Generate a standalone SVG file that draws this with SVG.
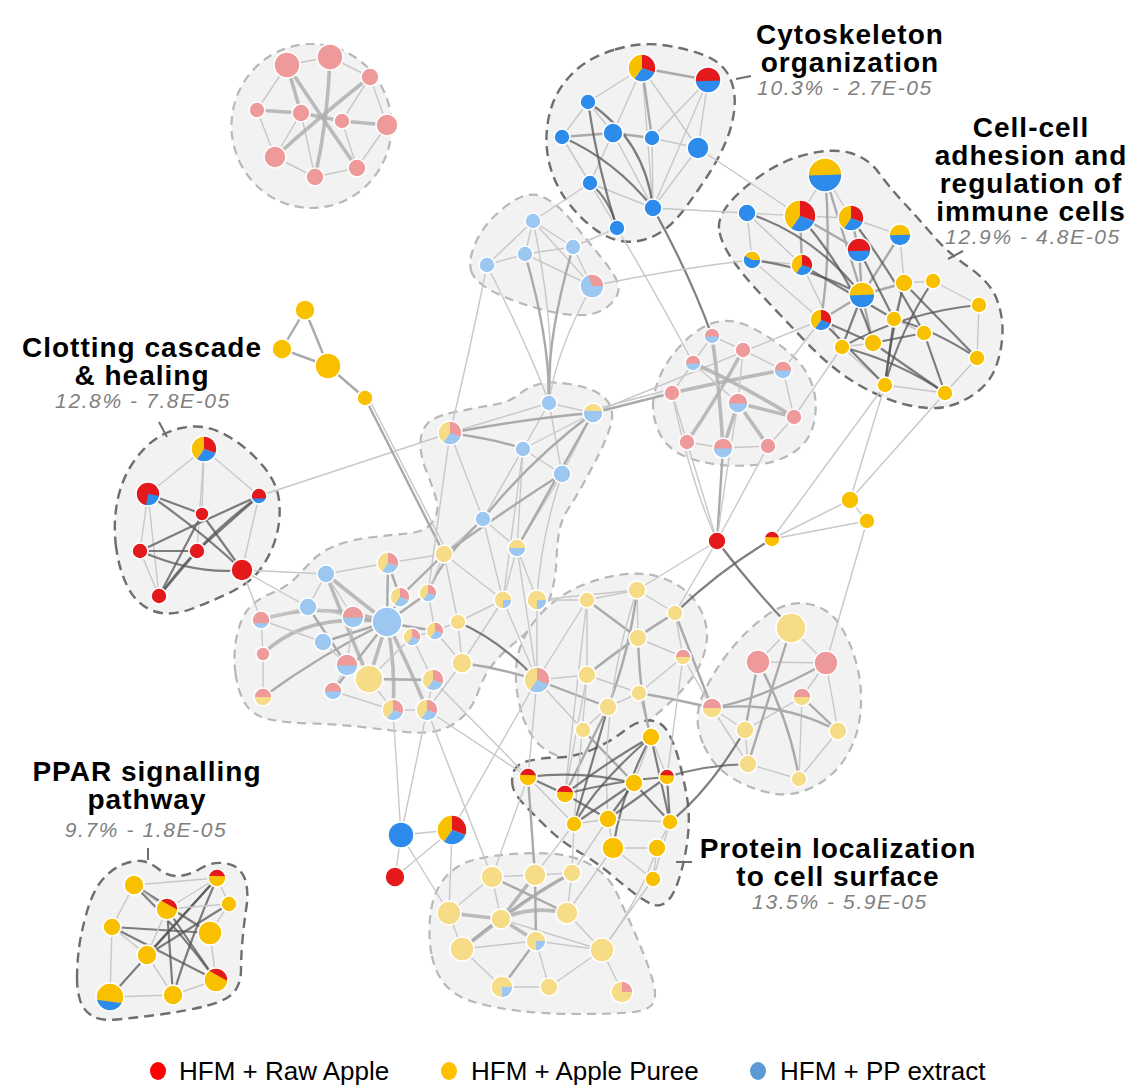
<svg xmlns="http://www.w3.org/2000/svg" width="1132" height="1087" viewBox="0 0 1132 1087">
<style>
.hl{fill:#f2f2f2;stroke:#b8b8b8;stroke-width:2.2;stroke-dasharray:9 6}
.hd{fill:#f2f2f2;stroke:#6e6e6e;stroke-width:2.4;stroke-dasharray:10 6}
#connectors path{fill:none;stroke-linecap:round}
.l1{stroke:#c8c8c8;stroke-width:1.4}
.l2{stroke:#aaaaaa;stroke-width:2.4}
.l3{stroke:#555;stroke-width:2.2;stroke-opacity:.75}
.l4{stroke:#b0b0b0;stroke-width:3.6;stroke-opacity:.85}
.R{fill:#E3191C}.Y{fill:#F9C000}.B{fill:#2D8CEB}.P{fill:#EE9A9B}.LY{fill:#F7DC88}.LB{fill:#9CC7F1}
circle.n{stroke:#fff;stroke-width:1.6}
.ring{fill:none;stroke:#fff;stroke-width:1.6;vector-effect:non-scaling-stroke}
.t{font-family:"Liberation Sans",Arial,sans-serif;font-weight:bold;font-size:28px;letter-spacing:1px;fill:#000;text-anchor:middle}
.s{font-family:"Liberation Sans",Arial,sans-serif;font-weight:normal;font-style:italic;font-size:21px;fill:#808080;letter-spacing:1.6px}
.lg{font-family:"Liberation Sans",Arial,sans-serif;font-size:26px;fill:#000}
.ld{stroke:#6e6e6e;stroke-width:2;fill:none}
</style>
<defs>
<g id="pie3"><path class="R" d="M0,0 L0,-1 A1,1 0 0,1 0.94,0.342 Z"/><path class="B" d="M0,0 L0.94,0.342 A1,1 0 0,1 -0.574,0.819 Z"/><path class="Y" d="M0,0 L-0.574,0.819 A1,1 0 0,1 0,-1 Z"/><circle r="1" class="ring" vector-effect="non-scaling-stroke"/></g>
<g id="fpie3"><path class="P" d="M0,0 L0,-1 A1,1 0 0,1 0.94,0.342 Z"/><path class="LB" d="M0,0 L0.94,0.342 A1,1 0 0,1 -0.574,0.819 Z"/><path class="LY" d="M0,0 L-0.574,0.819 A1,1 0 0,1 0,-1 Z"/><circle r="1" class="ring" vector-effect="non-scaling-stroke"/></g>
<g id="yb"><circle r="1" class="B"/><path class="Y" d="M-1,0.03 A1,1 0 0,1 1,-0.03 Z"/><circle r="1" class="ring" vector-effect="non-scaling-stroke"/></g>
<g id="rb"><circle r="1" class="B"/><path class="R" d="M-0.995,0.1 A1,1 0 1,1 0.999,0.04 Z"/><circle r="1" class="ring" vector-effect="non-scaling-stroke"/></g>
<g id="rb2"><circle r="1" class="B"/><path class="R" d="M-0.954,0.3 A1,1 0 1,1 0.954,0.3 Z"/><circle r="1" class="ring" vector-effect="non-scaling-stroke"/></g>
<g id="ry"><circle r="1" class="Y"/><path class="R" d="M-0.968,-0.25 A1,1 0 0,1 0.98,-0.2 Z"/><circle r="1" class="ring" vector-effect="non-scaling-stroke"/></g>
<g id="ry2"><circle r="1" class="Y"/><path class="R" d="M-0.6,-0.8 A1,1 0 0,1 0.995,0.1 Z"/><circle r="1" class="ring" vector-effect="non-scaling-stroke"/></g>
<g id="rbw"><circle r="1" class="R"/><path class="B" d="M0,0 L0.985,0.174 A1,1 0 0,1 -0.174,0.985 Z"/><circle r="1" class="ring" vector-effect="non-scaling-stroke"/></g>
<g id="byw"><circle r="1" class="B"/><path class="Y" d="M0,0 L-0.866,-0.5 A1,1 0 0,1 1,0 Z"/><circle r="1" class="ring" vector-effect="non-scaling-stroke"/></g>
<g id="pyb"><circle r="1" class="B"/><path class="Y" d="M-0.98,0.2 A1,1 0 1,1 0.898,0.44 Z"/><circle r="1" class="ring" vector-effect="non-scaling-stroke"/></g>
<g id="pb"><circle r="1" class="LB"/><path class="P" d="M-0.999,0.05 A1,1 0 1,1 0.999,0.05 Z"/><circle r="1" class="ring" vector-effect="non-scaling-stroke"/></g>
<g id="pb2"><circle r="1" class="LB"/><path class="P" d="M-0.937,0.35 A1,1 0 1,1 0.937,0.35 Z"/><circle r="1" class="ring" vector-effect="non-scaling-stroke"/></g>
<g id="py"><circle r="1" class="LY"/><path class="P" d="M-1,0 A1,1 0 0,1 1,0 Z"/><circle r="1" class="ring" vector-effect="non-scaling-stroke"/></g>
<g id="lyb"><circle r="1" class="LB"/><path class="LY" d="M-1,0 A1,1 0 0,1 1,0 Z"/><circle r="1" class="ring" vector-effect="non-scaling-stroke"/></g>
<g id="lyb2"><circle r="1" class="LB"/><path class="LY" d="M-0.98,-0.2 A1,1 0 0,1 0.98,-0.2 Z"/><circle r="1" class="ring" vector-effect="non-scaling-stroke"/></g>
<g id="lyw"><circle r="1" class="LY"/><path class="LB" d="M0,0 L1,0 A1,1 0 0,1 0,1 Z"/><circle r="1" class="ring" vector-effect="non-scaling-stroke"/></g>
<g id="lyp"><circle r="1" class="LY"/><path class="P" d="M0,0 L0,-1 A1,1 0 0,1 1,0 Z"/><circle r="1" class="ring" vector-effect="non-scaling-stroke"/></g>
<g id="lbp"><circle r="1" class="LB"/><path class="P" d="M0,0 L-0.34,-0.94 A1,1 0 0,1 1,0 Z"/><circle r="1" class="ring" vector-effect="non-scaling-stroke"/></g>
</defs>
<rect width="1132" height="1087" fill="#fff"/>
<g id="clusters">
<ellipse class="hl" cx="311.5" cy="126" rx="80" ry="82"/>
<path class="hl" d="M472,273 Q467,262 476,242 Q485,222 506,206 Q527,190 542,196.5 Q557,203 572,221.5 Q587,240 602,258.5 Q617,277 618.5,286 Q620,295 610,304.5 Q600,314 583.5,315 Q567,316 542,309.5 Q517,303 497,293.5 Q477,284 472,273 Z"/>
<path class="hl" d="M653,406 Q653,392 660.5,375 Q668,358 684,342 Q700,326 716.5,322 Q733,318 752.5,328 Q772,338 788.5,352 Q805,366 811.5,383 Q818,400 814.5,420 Q811,440 795.5,451 Q780,462 758.5,464.5 Q737,467 717,464.5 Q697,462 682,455 Q667,448 660,434 Q653,420 653,406 Z"/>
<path class="hl" d="M235.5,673.5 Q233,655 236.5,637.5 Q240,620 247.5,610 Q255,600 271,593.5 Q287,587 296,577.5 Q305,568 313.5,559.5 Q322,551 336,545.5 Q350,540 370,537.5 Q390,535 407.5,533.5 Q425,532 432.5,522 Q440,512 436,498.5 Q432,485 426,470 Q420,455 420.5,442.5 Q421,430 428,423 Q435,416 455,412 Q475,408 492.5,405 Q510,402 519,394.5 Q528,387 539.5,384 Q551,381 569,384 Q587,387 597,392.5 Q607,398 610.5,406.5 Q614,415 610,427.5 Q606,440 599,454 Q592,468 584,482.5 Q576,497 568.5,508.5 Q561,520 559,532.5 Q557,545 556.5,560 Q556,575 552,591 Q548,607 537.5,620 Q527,633 515,642.5 Q503,652 493.5,663.5 Q484,675 478.5,691 Q473,707 462.5,717 Q452,727 438.5,730.5 Q425,734 406,732 Q387,730 362,727 Q337,724 312,723.5 Q287,723 270,719.5 Q253,716 245.5,704 Q238,692 235.5,673.5 Z"/>
<path class="hl" d="M521.5,712.5 Q515,690 516,670 Q517,650 526,634 Q535,618 550,605 Q565,592 584,584.5 Q603,577 621.5,574.5 Q640,572 656,576 Q672,580 684.5,590 Q697,600 703,615 Q709,630 706,646 Q703,662 694,675 Q685,688 672.5,700 Q660,712 642.5,726 Q625,740 607.5,749 Q590,758 572.5,758 Q555,758 541.5,746.5 Q528,735 521.5,712.5 Z"/>
<path class="hl" d="M703,743.5 Q693,720 701.5,698.5 Q710,677 726.5,655 Q743,633 765,616.5 Q787,600 808.5,604 Q830,608 841.5,627.5 Q853,647 858,670 Q863,693 860,716.5 Q857,740 845,758.5 Q833,777 813,787 Q793,797 773,793.5 Q753,790 733,778.5 Q713,767 703,743.5 Z"/>
<path class="hl" d="M431.5,954 Q428,935 430.5,914 Q433,893 444,879 Q455,865 473.5,860 Q492,855 520.5,853.5 Q549,852 567.5,856 Q586,860 598.5,870 Q611,880 617,893.5 Q623,907 629.5,921 Q636,935 643,952.5 Q650,970 653.5,983.5 Q657,997 652.5,1004 Q648,1011 629.5,1012.5 Q611,1014 578,1014 Q545,1014 520,1011 Q495,1008 475.5,1002.5 Q456,997 445.5,985 Q435,973 431.5,954 Z"/>
<path class="hd" d="M615,49.5 Q640,42 662.5,45 Q685,48 703.5,55 Q722,62 729,76 Q736,90 734.5,107.5 Q733,125 725.5,142.5 Q718,160 706.5,177.5 Q695,195 682.5,211.5 Q670,228 655,235.5 Q640,243 625,241.5 Q610,240 596,230 Q582,220 570,205 Q558,190 552,172.5 Q546,155 546.5,136.5 Q547,118 553.5,101.5 Q560,85 575,71 Q590,57 615,49.5 Z"/>
<path class="hd" d="M719,228.5 Q718,217 729,203.5 Q740,190 761.5,175 Q783,160 808,154 Q833,148 850.5,153 Q868,158 879,173 Q890,188 904,203 Q918,218 932.5,235 Q947,252 968.5,267 Q990,282 996.5,298.5 Q1003,315 1002.5,332.5 Q1002,350 996,366.5 Q990,383 975,393.5 Q960,404 945,407 Q930,410 907.5,405 Q885,400 859,385 Q833,370 808,344 Q783,318 761.5,295 Q740,272 730,256 Q720,240 719,228.5 Z"/>
<path class="hd" d="M116,546.5 Q113,523 117.5,500.5 Q122,478 134.5,460.5 Q147,443 162,435 Q177,427 194.5,426.5 Q212,426 231,438 Q250,450 263.5,466.5 Q277,483 279,500 Q281,517 277,533.5 Q273,550 263,565.5 Q253,581 234,590.5 Q215,600 192.5,608.5 Q170,617 153.5,611 Q137,605 128,587.5 Q119,570 116,546.5 Z"/>
<path class="hd" d="M513,787.5 Q511,780 513.5,772 Q516,764 528,761 Q540,758 557.5,757.5 Q575,757 592.5,749.5 Q610,742 624,731 Q638,720 650,720.5 Q662,721 668.5,733 Q675,745 679.5,762.5 Q684,780 687,797.5 Q690,815 688,835 Q686,855 680.5,874 Q675,893 668.5,900 Q662,907 654.5,905 Q647,903 636.5,895 Q626,887 611,874.5 Q596,862 579,852 Q562,842 548,828.5 Q534,815 524.5,805 Q515,795 513,787.5 Z"/>
<path class="hd" d="M77,978.5 Q77,967 78.5,952 Q80,937 86,915 Q92,893 101,881.5 Q110,870 121.5,865 Q133,860 141.5,861 Q150,862 158.5,869 Q167,876 177.5,876 Q188,876 200.5,868.5 Q213,861 226.5,863.5 Q240,866 244.5,878 Q249,890 246.5,906.5 Q244,923 242.5,940 Q241,957 241,970 Q241,983 234.5,991.5 Q228,1000 207.5,1005.5 Q187,1011 160,1014.5 Q133,1018 116.5,1019.5 Q100,1021 91.5,1015.5 Q83,1010 80,1000 Q77,990 77,978.5 Z"/>
<path class="ld" d="M736,79 L751,76 M948,259 L963,251 M159,422 L167,437 M148,848 L148,860 M676,862 L692,862"/>
</g>
<g id="connectors">
<path class="l1" d="M287,65 L330,57"/><path class="l1" d="M330,57 L370,77"/><path class="l1" d="M287,65 L257,110"/><path class="l1" d="M257,110 L275,157"/><path class="l1" d="M275,157 L315,177"/><path class="l1" d="M315,177 L357,168"/><path class="l1" d="M357,168 L387,125"/><path class="l1" d="M387,125 L370,77"/><path class="l1" d="M301,113 L275,157"/><path class="l1" d="M342,121 L357,168"/><path class="l1" d="M370,77 L342,121"/><path class="l1" d="M301,113 L315,177"/>
<path class="l4" d="M287,65 L301,113"/><path class="l4" d="M257,110 L301,113"/><path class="l4" d="M342,121 L387,125"/><path class="l4" d="M275,157 Q318,118 370,77"/><path class="l4" d="M330,57 Q328,120 315,177"/><path class="l4" d="M287,65 Q322,118 357,168"/><path class="l4" d="M301,113 L342,121"/>
<path class="l1" d="M642,68 L588,102"/><path class="l1" d="M642,68 L613,133"/><path class="l1" d="M642,68 L698,148"/><path class="l1" d="M642,68 L653,208"/><path class="l1" d="M708,80 L698,148"/><path class="l1" d="M708,80 L652,138"/><path class="l1" d="M588,102 L562,137"/><path class="l1" d="M652,138 L698,148"/><path class="l1" d="M562,137 L590,183"/><path class="l1" d="M590,183 L653,208"/><path class="l1" d="M613,133 L590,183"/><path class="l1" d="M652,138 L653,208"/><path class="l1" d="M698,148 L653,208"/><path class="l1" d="M613,133 L653,208"/><path class="l1" d="M588,102 L613,133"/><path class="l1" d="M562,137 L617,228"/><path class="l1" d="M708,80 L653,208"/>
<path class="l2" d="M642,68 L708,80"/><path class="l2" d="M642,68 L652,138"/><path class="l2" d="M562,137 L613,133"/><path class="l2" d="M613,133 L652,138"/>
<path class="l3" d="M588,102 Q598,170 617,228"/><path class="l3" d="M562,137 Q615,160 653,208"/><path class="l3" d="M588,102 Q645,140 653,208"/><path class="l3" d="M590,183 Q610,200 617,228"/>
<path class="l1" d="M698,148 L800,216"/><path class="l1" d="M653,208 L747,213"/><path class="l1" d="M590,183 L533,221"/><path class="l1" d="M617,228 L573,247"/><path class="l1" d="M617,228 Q660,300 693,363"/><path class="l3" d="M653,208 Q690,275 712,336"/>
<path class="l1" d="M747,213 L800,216"/><path class="l1" d="M747,213 L752,260"/><path class="l1" d="M825,175 L800,216"/><path class="l1" d="M825,175 L851,218"/><path class="l1" d="M800,216 L851,218"/><path class="l1" d="M851,218 L900,235"/><path class="l1" d="M752,260 L802,265"/><path class="l1" d="M904,283 L933,281"/><path class="l1" d="M933,281 L979,305"/><path class="l1" d="M979,305 L977,358"/><path class="l1" d="M977,358 L945,393"/><path class="l1" d="M885,385 L945,393"/><path class="l1" d="M842,347 L885,385"/><path class="l1" d="M842,347 L873,343"/><path class="l1" d="M894,319 L924,333"/><path class="l1" d="M904,283 L894,319"/><path class="l1" d="M747,213 L802,265"/><path class="l1" d="M900,235 L904,283"/><path class="l1" d="M752,260 L821,320"/><path class="l1" d="M802,265 L842,347"/>
<path class="l2" d="M825,175 Q845,240 862,295"/><path class="l2" d="M825,175 Q832,250 821,320"/><path class="l2" d="M800,216 L859,250"/><path class="l2" d="M851,218 L859,250"/><path class="l2" d="M859,250 L862,295"/><path class="l2" d="M900,235 L862,295"/><path class="l2" d="M862,295 L904,283"/><path class="l2" d="M862,295 L873,343"/><path class="l2" d="M821,320 L862,295"/><path class="l2" d="M800,216 L802,265"/>
<path class="l3" d="M747,213 Q815,235 862,295"/><path class="l3" d="M752,260 Q812,268 862,295"/><path class="l3" d="M800,216 Q855,280 873,343"/><path class="l3" d="M802,265 L894,319"/><path class="l3" d="M862,295 L842,347"/><path class="l3" d="M821,320 L873,343"/><path class="l3" d="M904,283 Q890,340 885,385"/><path class="l3" d="M933,281 Q900,330 885,385"/><path class="l3" d="M979,305 Q905,312 842,347"/><path class="l3" d="M977,358 Q935,330 894,319"/><path class="l3" d="M924,333 L945,393"/><path class="l3" d="M894,319 L885,385"/><path class="l3" d="M873,343 L945,393"/><path class="l3" d="M859,250 L894,319"/><path class="l3" d="M851,218 Q890,270 924,333"/><path class="l3" d="M842,347 Q900,362 945,393"/><path class="l3" d="M873,343 L924,333"/><path class="l3" d="M904,283 L977,358"/><path class="l3" d="M821,320 L885,385"/>
<path class="l1" d="M821,320 L783,370"/><path class="l1" d="M842,347 L794,417"/><path class="l1" d="M885,385 L772,539"/><path class="l1" d="M945,393 L850,500"/><path class="l1" d="M885,385 L850,500"/><path class="l1" d="M593,413 L821,320"/>
<path class="l1" d="M533,221 L487,265"/><path class="l1" d="M533,221 L525,254"/><path class="l1" d="M533,221 L573,247"/><path class="l1" d="M487,265 L525,254"/><path class="l1" d="M525,254 L573,247"/><path class="l1" d="M525,254 L592,286"/><path class="l1" d="M573,247 L592,286"/><path class="l1" d="M533,221 L592,286"/>
<path class="l1" d="M487,265 Q532,355 549,403"/><path class="l1" d="M533,221 Q556,330 549,403"/><path class="l1" d="M592,286 Q556,350 549,403"/><path class="l2" d="M525,254 Q550,340 549,403"/><path class="l2" d="M573,247 Q546,340 549,403"/><path class="l1" d="M592,286 Q680,268 752,260"/><path class="l1" d="M487,265 Q470,350 450,433"/>
<path class="l4" d="M712,336 Q720,392 723,448"/><path class="l4" d="M693,363 Q742,385 794,417"/><path class="l4" d="M672,393 Q730,380 783,370"/><path class="l4" d="M743,350 Q716,400 687,442"/><path class="l4" d="M738,403 L794,417"/><path class="l4" d="M738,403 L768,446"/><path class="l4" d="M738,403 L723,448"/>
<path class="l1" d="M712,336 L743,350"/><path class="l1" d="M712,336 L693,363"/><path class="l1" d="M693,363 L672,393"/><path class="l1" d="M672,393 L687,442"/><path class="l1" d="M687,442 L723,448"/><path class="l1" d="M723,448 L768,446"/><path class="l1" d="M768,446 L794,417"/><path class="l1" d="M794,417 L783,370"/><path class="l1" d="M783,370 L743,350"/><path class="l1" d="M743,350 L738,403"/><path class="l1" d="M693,363 L738,403"/>
<path class="l1" d="M687,442 L717,541"/><path class="l2" d="M723,448 L717,541"/><path class="l1" d="M768,446 L717,541"/><path class="l1" d="M738,403 Q725,480 717,541"/><path class="l1" d="M672,393 Q690,480 717,541"/>
<path class="l2" d="M593,413 L672,393"/><path class="l1" d="M596,409 L672,389"/>
<path class="l3" d="M717,541 Q750,585 791,628"/><path class="l3" d="M772,539 Q720,570 675,613"/>
<path class="l1" d="M772,539 L850,500"/><path class="l1" d="M772,539 L867,521"/><path class="l1" d="M850,500 L867,521"/><path class="l1" d="M867,521 L826,663"/>
<path class="l1" d="M204,449 L148,494"/><path class="l1" d="M204,449 L259,496"/><path class="l1" d="M204,449 L197,551"/><path class="l1" d="M148,494 L140,551"/><path class="l1" d="M148,494 L159,596"/><path class="l1" d="M259,496 L242,570"/><path class="l1" d="M140,551 L159,596"/><path class="l1" d="M204,449 L202,514"/>
<path class="l3" d="M148,494 Q200,530 242,570"/><path class="l3" d="M259,496 Q200,540 159,596"/><path class="l3" d="M140,551 Q200,522 259,496"/><path class="l3" d="M202,514 L242,570"/><path class="l3" d="M202,514 L159,596"/><path class="l3" d="M197,551 L259,496"/><path class="l3" d="M140,551 L197,551"/><path class="l3" d="M148,494 L202,514"/><path class="l3" d="M140,551 Q195,575 242,570"/><path class="l3" d="M159,596 L197,551"/>
<path class="l1" d="M259,496 L450,433"/><path class="l1" d="M242,570 L261,620"/><path class="l1" d="M242,570 L308,607"/><path class="l1" d="M242,570 L326,574"/>
<path class="l2" d="M305,310 L282,349"/><path class="l2" d="M305,310 L328,366"/><path class="l2" d="M282,349 L328,366"/><path class="l2" d="M328,366 L365,398"/><path class="l2" d="M365,398 L444,554"/><path class="l1" d="M368,397 L447,552"/>
<path class="l1" d="M549,403 L593,413"/><path class="l1" d="M549,403 L523,449"/><path class="l1" d="M549,403 L562,474"/><path class="l1" d="M523,449 L562,474"/><path class="l1" d="M593,413 L523,449"/><path class="l1" d="M593,413 L562,474"/><path class="l1" d="M523,449 L483,519"/><path class="l1" d="M450,433 L483,519"/><path class="l1" d="M562,474 Q540,540 537,600"/><path class="l1" d="M562,474 L517,548"/><path class="l1" d="M483,519 L444,554"/><path class="l1" d="M483,519 L517,548"/><path class="l1" d="M523,449 L517,548"/><path class="l1" d="M483,519 L503,600"/><path class="l1" d="M517,548 L537,600"/><path class="l1" d="M444,554 L503,600"/><path class="l1" d="M549,403 L450,433"/><path class="l1" d="M450,433 L428,593"/><path class="l1" d="M517,548 L503,600"/><path class="l1" d="M523,449 L503,600"/>
<path class="l2" d="M450,433 Q500,440 523,449"/><path class="l2" d="M450,433 Q530,418 593,413"/><path class="l2" d="M593,413 Q530,460 483,519"/><path class="l2" d="M593,413 L517,548"/><path class="l2" d="M483,519 Q440,560 428,593"/><path class="l2" d="M562,474 Q520,500 444,554"/>
<path class="l4" d="M326,574 Q358,600 387,622"/><path class="l4" d="M326,574 Q348,630 369,679"/><path class="l4" d="M387,622 L369,679"/><path class="l4" d="M387,622 Q396,668 393,710"/><path class="l4" d="M387,622 Q410,668 427,710"/><path class="l4" d="M261,620 Q320,600 387,622"/><path class="l4" d="M263,654 Q305,612 387,622"/>
<path class="l2" d="M308,607 L347,665"/><path class="l2" d="M388,563 L387,622"/><path class="l2" d="M387,622 L333,691"/><path class="l2" d="M387,622 Q320,655 263,697"/><path class="l2" d="M353,617 L435,631"/><path class="l2" d="M323,642 L387,622"/><path class="l2" d="M387,622 L428,593"/><path class="l2" d="M387,622 L400,597"/><path class="l2" d="M400,597 L444,554"/><path class="l2" d="M388,563 L400,597"/><path class="l2" d="M369,679 L433,680"/>
<path class="l1" d="M388,563 L444,554"/><path class="l1" d="M308,607 L326,574"/><path class="l1" d="M261,620 L263,654"/><path class="l1" d="M263,654 L263,697"/><path class="l1" d="M261,620 L323,642"/><path class="l1" d="M323,642 L347,665"/><path class="l1" d="M347,665 L333,691"/><path class="l1" d="M333,691 L393,710"/><path class="l1" d="M393,710 L427,710"/><path class="l1" d="M412,637 L435,631"/><path class="l1" d="M435,631 L462,663"/><path class="l1" d="M462,663 L427,710"/><path class="l1" d="M412,637 L433,680"/><path class="l1" d="M433,680 L427,710"/><path class="l1" d="M369,679 L393,710"/><path class="l1" d="M458,622 L435,631"/><path class="l1" d="M458,622 L444,554"/><path class="l1" d="M428,593 L435,631"/><path class="l1" d="M458,622 L462,663"/><path class="l1" d="M353,617 L326,574"/><path class="l1" d="M308,607 L261,620"/><path class="l1" d="M326,574 L388,563"/><path class="l1" d="M412,637 L369,679"/><path class="l1" d="M503,600 L458,622"/><path class="l1" d="M462,663 L503,600"/><path class="l1" d="M444,554 L428,593"/><path class="l1" d="M308,607 L353,617"/><path class="l1" d="M353,617 L347,665"/>
<path class="l3" d="M458,622 Q500,640 537,680"/>
<path class="l1" d="M537,600 L587,600"/><path class="l1" d="M503,600 L537,680"/><path class="l1" d="M517,548 L537,680"/><path class="l1" d="M537,600 L537,680"/><path class="l2" d="M462,663 Q500,668 537,680"/><path class="l1" d="M433,680 L528,777"/><path class="l1" d="M427,710 L528,777"/><path class="l1" d="M427,710 L492,877"/><path class="l1" d="M393,710 L401,835"/><path class="l1" d="M537,600 L637,590"/>
<path class="l1" d="M537,680 L587,600"/><path class="l1" d="M537,680 L587,675"/><path class="l1" d="M587,600 L637,590"/><path class="l1" d="M587,600 L587,675"/><path class="l1" d="M637,590 L675,613"/><path class="l1" d="M637,590 L638,638"/><path class="l1" d="M675,613 L638,638"/><path class="l1" d="M638,638 L683,657"/><path class="l1" d="M638,638 L587,675"/><path class="l1" d="M587,675 L639,693"/><path class="l1" d="M639,693 L608,707"/><path class="l1" d="M608,707 L583,730"/><path class="l1" d="M683,657 L639,693"/><path class="l1" d="M675,613 L683,657"/><path class="l1" d="M583,730 L537,680"/>
<path class="l2" d="M637,590 Q630,650 608,707"/><path class="l2" d="M675,613 Q630,640 587,675"/><path class="l2" d="M587,600 L638,638"/><path class="l2" d="M537,680 L608,707"/>
<path class="l2" d="M675,613 L712,708"/><path class="l1" d="M683,657 L712,708"/><path class="l2" d="M639,693 Q680,700 712,708"/><path class="l1" d="M537,680 L528,777"/><path class="l1" d="M587,675 L565,794"/><path class="l2" d="M608,707 L565,794"/><path class="l2" d="M583,730 L634,783"/><path class="l3" d="M608,707 Q590,770 574,824"/><path class="l1" d="M639,693 L651,737"/><path class="l1" d="M587,675 L574,824"/><path class="l1" d="M637,590 Q600,700 608,819"/><path class="l1" d="M683,657 L667,777"/><path class="l2" d="M638,638 Q640,700 651,737"/><path class="l1" d="M587,600 Q575,700 565,794"/><path class="l1" d="M637,590 L717,541"/><path class="l1" d="M675,613 L717,541"/>
<path class="l1" d="M791,628 L758,662"/><path class="l1" d="M791,628 L826,663"/><path class="l1" d="M758,662 L826,663"/><path class="l1" d="M826,663 L802,697"/><path class="l1" d="M826,663 L838,731"/><path class="l1" d="M712,708 L745,730"/><path class="l1" d="M745,730 L748,764"/><path class="l1" d="M748,764 L799,779"/><path class="l1" d="M838,731 L799,779"/><path class="l1" d="M802,697 L799,779"/><path class="l1" d="M712,708 L748,764"/><path class="l1" d="M745,730 L802,697"/>
<path class="l2" d="M758,662 Q790,720 799,779"/><path class="l2" d="M791,628 Q768,700 748,764"/><path class="l2" d="M712,708 Q780,700 838,731"/><path class="l2" d="M802,697 L838,731"/><path class="l2" d="M758,662 L745,730"/><path class="l2" d="M826,663 Q760,700 712,708"/>
<path class="l3" d="M667,777 Q705,765 748,764"/><path class="l3" d="M670,822 Q710,790 745,730"/>
<path class="l3" d="M528,777 L565,794"/><path class="l3" d="M565,794 Q610,760 651,737"/><path class="l3" d="M565,794 Q620,780 667,777"/><path class="l3" d="M651,737 Q600,780 574,824"/><path class="l3" d="M634,783 L670,822"/><path class="l3" d="M667,777 L670,822"/><path class="l3" d="M608,819 L667,777"/><path class="l3" d="M608,819 L634,783"/><path class="l3" d="M651,737 Q622,790 613,848"/><path class="l3" d="M634,783 L574,824"/><path class="l3" d="M565,794 L608,819"/><path class="l3" d="M528,777 Q580,770 634,783"/><path class="l3" d="M651,737 L670,822"/>
<path class="l1" d="M574,824 L608,819"/><path class="l1" d="M608,819 L670,822"/><path class="l1" d="M608,819 L613,848"/><path class="l1" d="M613,848 L657,848"/><path class="l1" d="M657,848 L653,879"/><path class="l1" d="M670,822 L657,848"/><path class="l1" d="M670,822 L653,879"/><path class="l1" d="M528,777 L574,824"/><path class="l1" d="M651,737 L634,783"/><path class="l1" d="M651,737 L667,777"/><path class="l1" d="M613,848 L653,879"/>
<path class="l2" d="M528,777 L535,875"/><path class="l1" d="M574,824 L572,873"/><path class="l1" d="M608,819 L572,873"/><path class="l1" d="M613,848 L567,913"/><path class="l1" d="M653,879 L602,950"/><path class="l1" d="M657,848 Q640,900 602,950"/><path class="l1" d="M574,824 L501,919"/><path class="l1" d="M528,777 L492,877"/>
<path class="l1" d="M492,877 L535,875"/><path class="l1" d="M535,875 L572,873"/><path class="l1" d="M492,877 L449,913"/><path class="l1" d="M449,913 L462,949"/><path class="l1" d="M462,949 L502,987"/><path class="l1" d="M502,987 L549,987"/><path class="l1" d="M549,987 L536,941"/><path class="l1" d="M602,950 L622,992"/><path class="l1" d="M567,913 L602,950"/><path class="l1" d="M572,873 L567,913"/><path class="l1" d="M536,941 L602,950"/><path class="l1" d="M501,919 L602,950"/><path class="l1" d="M492,877 L501,919"/><path class="l1" d="M462,949 L536,941"/><path class="l1" d="M549,987 L602,950"/>
<path class="l4" d="M449,913 L501,919"/><path class="l4" d="M501,919 Q532,905 567,913"/><path class="l4" d="M501,919 L462,949"/><path class="l4" d="M501,919 L535,875"/><path class="l4" d="M501,919 Q540,890 572,873"/><path class="l4" d="M501,919 L536,941"/>
<path class="l2" d="M535,875 L536,941"/><path class="l2" d="M536,941 L502,987"/><path class="l2" d="M462,949 Q520,900 572,873"/><path class="l2" d="M492,877 L567,913"/>
<path class="l1" d="M449,913 L452,830"/><path class="l1" d="M449,913 L401,835"/><path class="l1" d="M401,835 L452,830"/><path class="l1" d="M401,835 L395,877"/><path class="l1" d="M452,830 L395,877"/><path class="l1" d="M452,830 L537,680"/><path class="l1" d="M401,835 L427,710"/>
<path class="l3" d="M134,885 Q180,930 216,980"/><path class="l3" d="M112,927 L210,933"/><path class="l3" d="M217,878 Q190,940 173,995"/><path class="l3" d="M167,909 L173,995"/><path class="l3" d="M134,885 L210,933"/><path class="l3" d="M110,997 Q170,930 217,878"/><path class="l3" d="M112,927 L216,980"/><path class="l3" d="M147,955 L217,878"/><path class="l3" d="M167,909 L216,980"/><path class="l3" d="M229,904 L147,955"/>
<path class="l1" d="M134,885 L112,927"/><path class="l1" d="M134,885 L167,909"/><path class="l1" d="M167,909 L217,878"/><path class="l1" d="M217,878 L229,904"/><path class="l1" d="M229,904 L210,933"/><path class="l1" d="M210,933 L216,980"/><path class="l1" d="M216,980 L173,995"/><path class="l1" d="M173,995 L110,997"/><path class="l1" d="M110,997 L112,927"/><path class="l1" d="M112,927 L147,955"/><path class="l1" d="M147,955 L173,995"/><path class="l1" d="M147,955 L167,909"/><path class="l1" d="M229,904 L167,909"/><path class="l1" d="M134,885 L217,878"/>
</g>
<g id="nodes">
<g id="nA1"><circle class="n P" cx="287" cy="65" r="13"/></g>
<g id="nA2"><circle class="n P" cx="330" cy="57" r="13"/></g>
<g id="nA3"><circle class="n P" cx="370" cy="77" r="9"/></g>
<g id="nA4"><circle class="n P" cx="257" cy="110" r="8"/></g>
<g id="nA5"><circle class="n P" cx="301" cy="113" r="9"/></g>
<g id="nA6"><circle class="n P" cx="342" cy="121" r="8"/></g>
<g id="nA7"><circle class="n P" cx="387" cy="125" r="11"/></g>
<g id="nA8"><circle class="n P" cx="275" cy="157" r="11"/></g>
<g id="nA9"><circle class="n P" cx="315" cy="177" r="9"/></g>
<g id="nA10"><circle class="n P" cx="357" cy="168" r="9"/></g>
<g id="nB1"><use href="#pie3" transform="translate(642 68) scale(14)"/></g>
<g id="nB2"><use href="#rb" transform="translate(708 80) scale(13)"/></g>
<g id="nB3"><circle class="n B" cx="588" cy="102" r="8"/></g>
<g id="nB4"><circle class="n B" cx="562" cy="137" r="8"/></g>
<g id="nB5"><circle class="n B" cx="613" cy="133" r="10"/></g>
<g id="nB6"><circle class="n B" cx="652" cy="138" r="8"/></g>
<g id="nB7"><circle class="n B" cx="698" cy="148" r="11"/></g>
<g id="nB8"><circle class="n B" cx="590" cy="183" r="8"/></g>
<g id="nB9"><circle class="n B" cx="653" cy="208" r="9"/></g>
<g id="nB10"><circle class="n B" cx="617" cy="228" r="8"/></g>
<g id="nC1"><use href="#yb" transform="translate(825 175) scale(17)"/></g>
<g id="nC2"><circle class="n B" cx="747" cy="213" r="9"/></g>
<g id="nC3"><use href="#pie3" transform="translate(800 216) scale(16)"/></g>
<g id="nC4"><use href="#pie3" transform="translate(851 218) scale(13)"/></g>
<g id="nC5"><use href="#yb" transform="translate(900 235) scale(11)"/></g>
<g id="nC6"><use href="#rb" transform="translate(859 250) scale(12)"/></g>
<g id="nC7"><use href="#byw" transform="translate(752 260) scale(9)"/></g>
<g id="nC8"><use href="#pie3" transform="translate(802 265) scale(11)"/></g>
<g id="nC9"><use href="#yb" transform="translate(862 295) scale(13)"/></g>
<g id="nC10"><use href="#pie3" transform="translate(821 320) scale(11)"/></g>
<g id="nC11"><circle class="n Y" cx="904" cy="283" r="9"/></g>
<g id="nC12"><circle class="n Y" cx="933" cy="281" r="8"/></g>
<g id="nC13"><circle class="n Y" cx="979" cy="305" r="8"/></g>
<g id="nC14"><circle class="n Y" cx="894" cy="319" r="8"/></g>
<g id="nC15"><circle class="n Y" cx="924" cy="333" r="8"/></g>
<g id="nC16"><circle class="n Y" cx="842" cy="347" r="8"/></g>
<g id="nC17"><circle class="n Y" cx="873" cy="343" r="9"/></g>
<g id="nC18"><circle class="n Y" cx="977" cy="358" r="8"/></g>
<g id="nC19"><circle class="n Y" cx="885" cy="385" r="8"/></g>
<g id="nC20"><circle class="n Y" cx="945" cy="393" r="8"/></g>
<g id="nD1"><circle class="n LB" cx="533" cy="221" r="8"/></g>
<g id="nD2"><circle class="n LB" cx="487" cy="265" r="8"/></g>
<g id="nD3"><circle class="n LB" cx="525" cy="254" r="8"/></g>
<g id="nD4"><circle class="n LB" cx="573" cy="247" r="8"/></g>
<g id="nD5"><use href="#lbp" transform="translate(592 286) scale(12)"/></g>
<g id="nE1"><use href="#pb" transform="translate(712 336) scale(8)"/></g>
<g id="nE2"><circle class="n P" cx="743" cy="350" r="8"/></g>
<g id="nE3"><use href="#pb" transform="translate(693 363) scale(8)"/></g>
<g id="nE4"><use href="#pb" transform="translate(783 370) scale(9)"/></g>
<g id="nE5"><circle class="n P" cx="672" cy="393" r="8"/></g>
<g id="nE6"><use href="#pb" transform="translate(738 403) scale(10)"/></g>
<g id="nE7"><circle class="n P" cx="794" cy="417" r="8"/></g>
<g id="nE8"><circle class="n P" cx="687" cy="442" r="8"/></g>
<g id="nE9"><use href="#pb" transform="translate(723 448) scale(10)"/></g>
<g id="nE10"><circle class="n P" cx="768" cy="446" r="8"/></g>
<g id="nR1"><circle class="n R" cx="717" cy="541" r="9"/></g>
<g id="nR2"><use href="#ry" transform="translate(772 539) scale(8)"/></g>
<g id="nY1"><circle class="n Y" cx="850" cy="500" r="9"/></g>
<g id="nY2"><circle class="n Y" cx="867" cy="521" r="8"/></g>
<g id="nF1"><use href="#pie3" transform="translate(204 449) scale(13)"/></g>
<g id="nF2"><use href="#rbw" transform="translate(148 494) scale(12)"/></g>
<g id="nF3"><use href="#rb2" transform="translate(259 496) scale(8)"/></g>
<g id="nF4"><circle class="n R" cx="202" cy="514" r="7"/></g>
<g id="nF5"><circle class="n R" cx="140" cy="551" r="8"/></g>
<g id="nF6"><circle class="n R" cx="197" cy="551" r="8"/></g>
<g id="nF7"><circle class="n R" cx="242" cy="570" r="11"/></g>
<g id="nF8"><circle class="n R" cx="159" cy="596" r="8"/></g>
<g id="nT1"><circle class="n Y" cx="305" cy="310" r="10"/></g>
<g id="nT2"><circle class="n Y" cx="282" cy="349" r="10"/></g>
<g id="nT3"><circle class="n Y" cx="328" cy="366" r="13"/></g>
<g id="nT4"><circle class="n Y" cx="365" cy="398" r="8"/></g>
<g id="nG1"><circle class="n LB" cx="549" cy="403" r="8"/></g>
<g id="nG2"><use href="#lyb2" transform="translate(593 413) scale(10)"/></g>
<g id="nG3"><use href="#fpie3" transform="translate(450 433) scale(12)"/></g>
<g id="nG4"><circle class="n LB" cx="523" cy="449" r="8"/></g>
<g id="nG5"><circle class="n LB" cx="562" cy="474" r="9"/></g>
<g id="nG6"><circle class="n LB" cx="483" cy="519" r="8"/></g>
<g id="nG7"><use href="#lyb" transform="translate(517 548) scale(9)"/></g>
<g id="nG8"><circle class="n LY" cx="444" cy="554" r="9"/></g>
<g id="nG9"><use href="#fpie3" transform="translate(428 593) scale(9)"/></g>
<g id="nG10"><use href="#lyw" transform="translate(503 600) scale(9)"/></g>
<g id="nG11"><use href="#lyw" transform="translate(537 600) scale(10)"/></g>
<g id="nG12"><circle class="n LB" cx="326" cy="574" r="9"/></g>
<g id="nG13"><use href="#fpie3" transform="translate(388 563) scale(11)"/></g>
<g id="nG14"><circle class="n LB" cx="308" cy="607" r="9"/></g>
<g id="nG15"><use href="#pb2" transform="translate(261 620) scale(9)"/></g>
<g id="nG16"><use href="#pb" transform="translate(353 617) scale(11)"/></g>
<g id="nG17"><circle class="n LB" cx="387" cy="622" r="15"/></g>
<g id="nG18"><use href="#fpie3" transform="translate(400 597) scale(10)"/></g>
<g id="nG19"><circle class="n LY" cx="458" cy="622" r="8"/></g>
<g id="nG20"><circle class="n LB" cx="323" cy="642" r="9"/></g>
<g id="nG21"><use href="#fpie3" transform="translate(412 637) scale(9)"/></g>
<g id="nG22"><use href="#fpie3" transform="translate(435 631) scale(9)"/></g>
<g id="nG23"><circle class="n P" cx="263" cy="654" r="7"/></g>
<g id="nG24"><use href="#pb" transform="translate(347 665) scale(11)"/></g>
<g id="nG25"><circle class="n LY" cx="369" cy="679" r="14"/></g>
<g id="nG26"><circle class="n LY" cx="462" cy="663" r="10"/></g>
<g id="nG27"><use href="#fpie3" transform="translate(433 680) scale(11)"/></g>
<g id="nG28"><use href="#pb" transform="translate(333 691) scale(9)"/></g>
<g id="nG29"><use href="#py" transform="translate(263 697) scale(9)"/></g>
<g id="nG30"><use href="#fpie3" transform="translate(393 710) scale(11)"/></g>
<g id="nG31"><use href="#fpie3" transform="translate(427 710) scale(11)"/></g>
<g id="nH1"><use href="#fpie3" transform="translate(537 680) scale(13)"/></g>
<g id="nH2"><circle class="n LY" cx="587" cy="600" r="8"/></g>
<g id="nH3"><circle class="n LY" cx="637" cy="590" r="9"/></g>
<g id="nH4"><circle class="n LY" cx="675" cy="613" r="8"/></g>
<g id="nH5"><circle class="n LY" cx="638" cy="638" r="9"/></g>
<g id="nH6"><use href="#py" transform="translate(683 657) scale(8)"/></g>
<g id="nH7"><circle class="n LY" cx="587" cy="675" r="9"/></g>
<g id="nH8"><circle class="n LY" cx="639" cy="693" r="8"/></g>
<g id="nH9"><circle class="n LY" cx="608" cy="707" r="9"/></g>
<g id="nH10"><circle class="n LY" cx="583" cy="730" r="8"/></g>
<g id="nI1"><circle class="n LY" cx="791" cy="628" r="15"/></g>
<g id="nI2"><circle class="n P" cx="758" cy="662" r="12"/></g>
<g id="nI3"><circle class="n P" cx="826" cy="663" r="12"/></g>
<g id="nI4"><use href="#py" transform="translate(802 697) scale(9)"/></g>
<g id="nI5"><use href="#py" transform="translate(712 708) scale(10)"/></g>
<g id="nI6"><circle class="n LY" cx="745" cy="730" r="9"/></g>
<g id="nI7"><circle class="n LY" cx="838" cy="731" r="9"/></g>
<g id="nI8"><circle class="n LY" cx="748" cy="764" r="9"/></g>
<g id="nI9"><circle class="n LY" cx="799" cy="779" r="8"/></g>
<g id="nJ1"><circle class="n Y" cx="651" cy="737" r="9"/></g>
<g id="nJ2"><use href="#ry" transform="translate(528 777) scale(9)"/></g>
<g id="nJ3"><use href="#ry" transform="translate(565 794) scale(9)"/></g>
<g id="nJ4"><circle class="n Y" cx="634" cy="783" r="9"/></g>
<g id="nJ5"><use href="#ry" transform="translate(667 777) scale(8)"/></g>
<g id="nJ6"><circle class="n Y" cx="574" cy="824" r="8"/></g>
<g id="nJ7"><circle class="n Y" cx="608" cy="819" r="9"/></g>
<g id="nJ8"><circle class="n Y" cx="670" cy="822" r="8"/></g>
<g id="nJ9"><circle class="n Y" cx="613" cy="848" r="11"/></g>
<g id="nJ10"><circle class="n Y" cx="657" cy="848" r="9"/></g>
<g id="nJ11"><circle class="n Y" cx="653" cy="879" r="8"/></g>
<g id="nK1"><circle class="n LY" cx="492" cy="877" r="11"/></g>
<g id="nK2"><circle class="n LY" cx="535" cy="875" r="11"/></g>
<g id="nK3"><circle class="n LY" cx="572" cy="873" r="9"/></g>
<g id="nK4"><circle class="n LY" cx="449" cy="913" r="12"/></g>
<g id="nK5"><circle class="n LY" cx="501" cy="919" r="10"/></g>
<g id="nK6"><circle class="n LY" cx="567" cy="913" r="11"/></g>
<g id="nK7"><circle class="n LY" cx="462" cy="949" r="12"/></g>
<g id="nK8"><use href="#lyw" transform="translate(536 941) scale(10)"/></g>
<g id="nK9"><circle class="n LY" cx="602" cy="950" r="12"/></g>
<g id="nK10"><use href="#lyw" transform="translate(502 987) scale(11)"/></g>
<g id="nK11"><circle class="n LY" cx="549" cy="987" r="9"/></g>
<g id="nK12"><use href="#lyp" transform="translate(622 992) scale(11)"/></g>
<g id="nN1"><circle class="n B" cx="401" cy="835" r="13"/></g>
<g id="nN2"><use href="#pie3" transform="translate(452 830) scale(15)"/></g>
<g id="nN3"><circle class="n R" cx="395" cy="877" r="10"/></g>
<g id="nP1"><circle class="n Y" cx="134" cy="885" r="10"/></g>
<g id="nP2"><use href="#ry" transform="translate(217 878) scale(9)"/></g>
<g id="nP3"><circle class="n Y" cx="229" cy="904" r="8"/></g>
<g id="nP4"><use href="#ry2" transform="translate(167 909) scale(11)"/></g>
<g id="nP5"><circle class="n Y" cx="112" cy="927" r="9"/></g>
<g id="nP6"><circle class="n Y" cx="210" cy="933" r="12"/></g>
<g id="nP7"><circle class="n Y" cx="147" cy="955" r="10"/></g>
<g id="nP8"><use href="#ry2" transform="translate(216 980) scale(12)"/></g>
<g id="nP9"><use href="#pyb" transform="translate(110 997) scale(14)"/></g>
<g id="nP10"><circle class="n Y" cx="173" cy="995" r="10"/></g>
</g>
<g id="labels">
<text class="t" x="850" y="44">Cytoskeleton<tspan x="850" dy="28">organization</tspan><tspan class="s" x="845" dy="23">10.3% - 2.7E-05</tspan></text>
<text class="t" x="1031" y="137">Cell-cell<tspan x="1031" dy="28">adhesion and</tspan><tspan x="1031" dy="28">regulation of</tspan><tspan x="1031" dy="28">immune cells</tspan><tspan class="s" x="1033" dy="23">12.9% - 4.8E-05</tspan></text>
<text class="t" x="142" y="357">Clotting cascade<tspan x="142" dy="28">&amp; healing</tspan><tspan class="s" x="143" dy="23">12.8% - 7.8E-05</tspan></text>
<text class="t" x="147" y="781">PPAR signalling<tspan x="147" dy="28">pathway</tspan><tspan class="s" x="146" dy="28">9.7% - 1.8E-05</tspan></text>
<text class="t" x="838" y="858">Protein localization<tspan x="838" dy="28">to cell surface</tspan><tspan class="s" x="840" dy="23">13.5% - 5.9E-05</tspan></text>
</g>
<g id="legend">
<ellipse cx="158" cy="1071" rx="8" ry="9" fill="#FF0000"/>
<text class="lg" x="179" y="1080">HFM + Raw Apple</text>
<ellipse cx="449" cy="1071" rx="8" ry="9" fill="#FFC000"/>
<text class="lg" x="471" y="1080">HFM + Apple Puree</text>
<ellipse cx="758" cy="1071" rx="8" ry="9" fill="#5B9BD5"/>
<text class="lg" x="780" y="1080">HFM + PP extract</text>
</g>
</svg>
